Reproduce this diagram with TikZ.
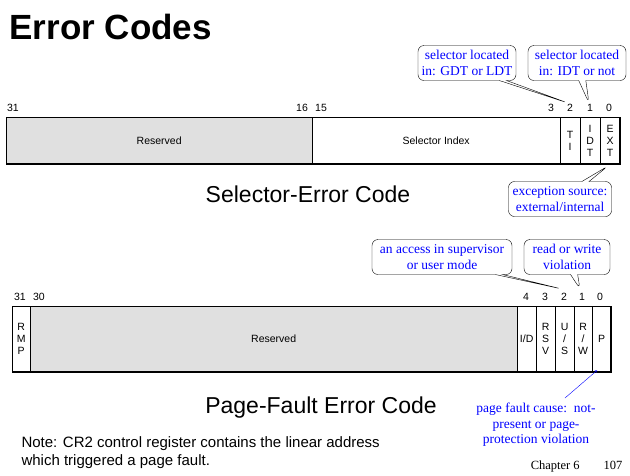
\documentclass[tikz,border=0pt]{standalone}
\usepackage{fontspec}
\setmainfont{Liberation Sans}
\newfontfamily\notefont{Liberation Serif}
\usetikzlibrary{positioning}
\usetikzlibrary{shapes.callouts}

\tikzset{
  field/.style={draw=black, thin, minimum height=#1, inner sep=0pt, anchor=north west, font=\fontsize{10.5}{12}\selectfont, align=center},
  gray field/.style={field=#1, fill=black!12},
  bitno/.style={font=\fontsize{10.5}{12}\selectfont, inner sep=0pt},
  remark/.style={rectangle callout, rounded corners=6pt, draw=black, fill=white, text=blue, font=\notefont\fontsize{13.5}{15.5}\selectfont, align=center, inner sep=2pt, minimum height=35pt},
}

\begin{document}
\begin{tikzpicture}[x=1pt,y=-1pt]
\useasboundingbox (0,0) rectangle (630,475);

\node[anchor=west, font=\bfseries\fontsize{35}{35}\selectfont] (title) at (6,27) {Error Codes};

% selector error code
\node[gray field=47pt, minimum width=306pt] (reserved) at (6,117) {Reserved};
\node[field=47pt, minimum width=248pt] (index) at (312,117) {Selector Index};
\node[field=47pt, minimum width=20pt] (ti) at (560,117) {T\\I};
\node[field=47pt, minimum width=20pt] (idt) at (580,117) {I\\D\\T};
\node[field=47pt, minimum width=20pt] (ext) at (600,117) {E\\X\\T};
\draw[line width=2pt] (reserved.south west) -- (ext.south east) -- (ext.north east);
\foreach \b/\x in {31/13, 16/302, 15/321, 3/551, 2/570, 1/590, 0/609}
  \node[bitno] (s\b) at (\x,108) {\b};
\node[font=\fontsize{23}{23}\selectfont] (selcap) at (308,194) {Selector-Error Code};

% page fault error code
\node[field=66pt, minimum width=18pt] (rmp) at (12,306) {R\\M\\P};
\node[gray field=66pt, minimum width=487pt] (pfres) at (30,306) {Reserved};
\node[field=66pt, minimum width=19pt] (id) at (517,306) {I/D};
\node[field=66pt, minimum width=19pt] (rsv) at (536,306) {R\\S\\V};
\node[field=66pt, minimum width=19pt] (us) at (555,306) {U\\/\\S};
\node[field=66pt, minimum width=18pt] (rw) at (574,306) {R\\/\\W};
\node[field=66pt, minimum width=19pt] (p) at (592,306) {P};
\draw[line width=2pt] (rmp.south west) -- (p.south east) -- (p.north east);
\foreach \b/\x in {31/20, 30/39, 4/526, 3/545, 2/564, 1/582, 0/600}
  \node[bitno] (p\b) at (\x,297) {\b};
\node[font=\fontsize{23}{23}\selectfont] (pfcap) at (321,408) {Page-Fault Error Code};

% callouts
\node[remark, minimum width=98pt, callout absolute pointer={(568,103)}] (tinote) at (467,63) {selector located\\in: GDT or LDT};
\node[remark, minimum width=98pt, callout absolute pointer={(589,103)}] (idtnote) at (577,63) {selector located\\in: IDT or not};
\node[remark, minimum width=103pt, callout absolute pointer={(608,166)}] (extnote) at (560,199) {exception source:\\external/internal};
\node[remark, minimum width=140pt, callout absolute pointer={(562,289)}] (usnote) at (442,257) {an access in supervisor\\or user mode};
\node[remark, minimum width=86pt, callout absolute pointer={(580,289)}] (rwnote) at (567,257) {read or write\\violation};

\node[text=blue, font=\notefont\fontsize{13.5}{15.5}\selectfont, align=center] (pnote) at (536,425) {page fault cause:\ \ not-\\present or page-\\protection violation};
\coordinate (ptail) at (565,398);
\draw[->, blue] (ptail) -- ([xshift=5pt,yshift=2pt]p.south west);

\node[anchor=north west, align=left, font=\fontsize{15}{18}\selectfont] (note) at (18,433) {Note: CR2 control register contains the linear address\\which triggered a page fault.};
\node[anchor=east, font=\notefont\fontsize{12.5}{13}\selectfont] (chapter) at (626,466) {Chapter 6\hspace{24pt}107};
\end{tikzpicture}
\end{document}
